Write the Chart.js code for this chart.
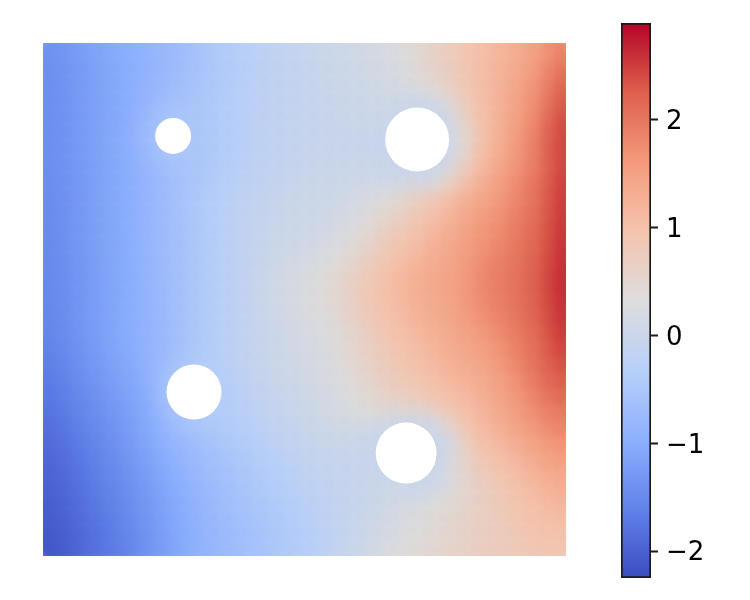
<!DOCTYPE html>
<html>
<head>
<meta charset="utf-8">
<script src="https://cdn.jsdelivr.net/npm/chart.js@4/dist/chart.umd.min.js"></script>
<style>
  html, body { margin: 0; background: #fff; overflow: hidden; }
  canvas { position: absolute; }
  #field { left: 43px; top: 43px; }
  #bar { left: 611px; top: 13px; }
</style>
</head>
<body>
<canvas id="field" width="523" height="513"></canvas>
<canvas id="bar" width="139" height="575"></canvas>
<script>
// values, one row per 16px band, top to bottom (null = inside a hole)
const zRows = [
  [-1.40,-1.30,-1.20,-1.12,-1.02,-.95,-.87,-.78,-.68,-.57,-.46,-.36,-.28,-.22,-.15,-.08,-.02,.03,.08,.13,.20,.28,.40,.55,.70,.85,1.00,1.12,1.25,1.40,1.58,1.85],
  [-1.41,-1.31,-1.21,-1.12,-1.03,-.95,-.86,-.76,-.66,-.55,-.45,-.36,-.28,-.21,-.15,-.08,-.03,.02,.06,.11,.17,.24,.35,.50,.68,.83,1.00,1.13,1.28,1.45,1.68,2.00],
  [-1.42,-1.32,-1.22,-1.13,-1.03,-.94,-.84,-.74,-.63,-.53,-.43,-.35,-.27,-.21,-.14,-.08,-.03,.01,.05,.09,.14,.20,.28,.42,.62,.80,1.00,1.15,1.32,1.52,1.78,2.15],
  [-1.42,-1.32,-1.22,-1.13,-1.03,-.93,-.80,-.66,-.58,-.50,-.42,-.34,-.27,-.20,-.14,-.08,-.03,.00,.03,.06,.09,.10,.08,.10,.30,.68,.95,1.15,1.35,1.58,1.85,2.25],
  [-1.42,-1.33,-1.23,-1.13,-1.04,-.92,-.74,-.55,-.50,-.48,-.41,-.33,-.26,-.20,-.13,-.08,-.04,-.01,.01,.03,.05,.02,.00,.00,.02,.55,.90,1.15,1.38,1.62,1.95,2.35],
  [-1.42,-1.32,-1.22,-1.12,-1.02,-.88,-.62,null,null,-.50,-.42,-.32,-.25,-.18,-.12,-.07,-.04,-.02,.00,.00,-.02,-.02,null,null,.00,.30,.85,1.15,1.42,1.70,2.02,2.40],
  [-1.43,-1.33,-1.23,-1.13,-1.02,-.90,-.70,-.52,-.50,-.50,-.42,-.32,-.25,-.18,-.12,-.07,-.03,-.01,.00,.00,-.01,-.01,null,null,.00,.30,.88,1.20,1.48,1.75,2.08,2.42],
  [-1.43,-1.33,-1.23,-1.13,-1.03,-.92,-.78,-.60,-.52,-.50,-.40,-.31,-.24,-.17,-.11,-.06,-.02,.00,.01,.02,.01,.00,.00,.00,.05,.55,1.00,1.28,1.52,1.78,2.05,2.42],
  [-1.44,-1.34,-1.24,-1.13,-1.03,-.93,-.82,-.70,-.58,-.47,-.37,-.29,-.21,-.15,-.08,-.03,.02,.04,.06,.08,.10,.10,.08,.12,.42,.85,1.18,1.42,1.65,1.88,2.10,2.45],
  [-1.45,-1.35,-1.25,-1.13,-1.02,-.92,-.80,-.68,-.55,-.43,-.33,-.25,-.17,-.10,-.03,.03,.05,.07,.11,.18,.28,.40,.55,.72,.92,1.15,1.32,1.50,1.70,1.93,2.15,2.48],
  [-1.46,-1.35,-1.25,-1.14,-1.03,-.92,-.80,-.68,-.55,-.43,-.32,-.24,-.15,-.07,.00,.04,.07,.10,.18,.28,.42,.58,.75,.92,1.10,1.30,1.48,1.62,1.80,1.98,2.18,2.50],
  [-1.47,-1.36,-1.25,-1.15,-1.04,-.93,-.81,-.69,-.56,-.44,-.32,-.22,-.13,-.05,.03,.07,.10,.17,.26,.38,.56,.74,.90,1.06,1.22,1.38,1.55,1.68,1.85,2.03,2.22,2.53],
  [-1.48,-1.37,-1.26,-1.15,-1.05,-.94,-.82,-.69,-.57,-.44,-.32,-.22,-.12,-.03,.06,.10,.15,.22,.34,.50,.70,.88,1.02,1.18,1.32,1.46,1.62,1.75,1.90,2.07,2.26,2.55],
  [-1.49,-1.38,-1.27,-1.16,-1.05,-.95,-.83,-.70,-.57,-.45,-.33,-.22,-.11,.00,.09,.15,.22,.32,.44,.62,.82,.98,1.12,1.26,1.36,1.50,1.68,1.85,1.95,2.10,2.29,2.58],
  [-1.50,-1.38,-1.27,-1.16,-1.05,-.95,-.83,-.70,-.58,-.45,-.33,-.22,-.10,.02,.12,.20,.30,.40,.55,.74,.93,1.08,1.22,1.33,1.40,1.54,1.72,1.88,1.98,2.13,2.32,2.60],
  [-1.51,-1.39,-1.28,-1.17,-1.06,-.95,-.84,-.71,-.58,-.45,-.33,-.22,-.10,.02,.13,.22,.32,.43,.58,.78,.95,1.08,1.22,1.32,1.40,1.54,1.72,1.87,1.98,2.13,2.32,2.60],
  [-1.52,-1.40,-1.29,-1.17,-1.06,-.95,-.84,-.71,-.58,-.45,-.33,-.22,-.10,.01,.12,.20,.30,.40,.56,.75,.92,1.05,1.19,1.30,1.38,1.52,1.68,1.83,1.95,2.11,2.29,2.57],
  [-1.53,-1.41,-1.29,-1.18,-1.06,-.96,-.85,-.72,-.58,-.45,-.33,-.22,-.10,.00,.10,.18,.26,.35,.50,.68,.86,1.00,1.13,1.25,1.35,1.47,1.60,1.75,1.90,2.07,2.26,2.54],
  [-1.55,-1.43,-1.30,-1.18,-1.06,-.96,-.85,-.72,-.58,-.45,-.33,-.22,-.10,.00,.08,.15,.22,.30,.44,.60,.78,.93,1.05,1.17,1.28,1.40,1.50,1.65,1.82,2.00,2.18,2.48],
  [-1.60,-1.47,-1.34,-1.22,-1.10,-.99,-.87,-.72,-.55,-.42,-.33,-.24,-.12,-.02,.06,.12,.20,.28,.42,.58,.74,.88,1.00,1.11,1.22,1.33,1.42,1.57,1.75,1.96,2.14,2.40],
  [-1.65,-1.51,-1.38,-1.26,-1.14,-1.02,-.88,-.62,-.45,-.36,-.33,-.26,-.13,-.03,.04,.10,.18,.26,.38,.50,.66,.79,.90,1.01,1.13,1.24,1.32,1.47,1.65,1.88,2.08,2.30],
  [-1.70,-1.57,-1.44,-1.32,-1.20,-1.08,-.92,-.55,null,null,-.38,-.30,-.20,-.10,-.02,.05,.12,.20,.32,.44,.58,.70,.80,.92,1.03,1.14,1.25,1.40,1.56,1.78,2.00,2.20],
  [-1.75,-1.62,-1.49,-1.37,-1.25,-1.12,-.96,-.60,-.48,null,-.40,-.32,-.22,-.12,-.04,.03,.10,.18,.26,.36,.47,.55,.58,.72,.88,1.03,1.15,1.33,1.49,1.68,1.87,2.05],
  [-1.80,-1.67,-1.54,-1.42,-1.30,-1.17,-1.00,-.78,-.55,-.45,-.42,-.35,-.27,-.18,-.10,-.03,.04,.11,.17,.22,.18,.08,.03,.15,.50,.85,1.08,1.24,1.40,1.58,1.75,1.90],
  [-1.85,-1.72,-1.60,-1.47,-1.35,-1.20,-1.03,-.87,-.72,-.60,-.50,-.41,-.33,-.25,-.17,-.09,-.02,.03,.05,.02,.00,.00,null,.00,.08,.62,.97,1.12,1.28,1.45,1.60,1.75],
  [-1.90,-1.77,-1.65,-1.52,-1.40,-1.26,-1.10,-.95,-.80,-.68,-.57,-.48,-.39,-.31,-.22,-.14,-.07,-.03,-.01,.00,.00,null,null,.00,.05,.45,.86,1.00,1.15,1.30,1.45,1.60],
  [-1.94,-1.82,-1.70,-1.57,-1.45,-1.31,-1.16,-1.01,-.87,-.75,-.64,-.54,-.45,-.37,-.29,-.21,-.13,-.08,-.04,-.01,.00,null,null,.00,.15,.50,.72,.88,1.02,1.18,1.32,1.45],
  [-1.98,-1.86,-1.74,-1.62,-1.50,-1.36,-1.21,-1.06,-.92,-.80,-.69,-.59,-.50,-.42,-.34,-.26,-.18,-.12,-.06,-.01,.02,.02,.00,.02,.20,.42,.65,.80,.93,1.06,1.19,1.30],
  [-2.02,-1.90,-1.78,-1.66,-1.54,-1.40,-1.25,-1.10,-.96,-.84,-.73,-.63,-.54,-.46,-.38,-.30,-.22,-.15,-.07,.00,.07,.13,.18,.26,.38,.50,.63,.76,.88,.99,1.10,1.19],
  [-2.05,-1.93,-1.81,-1.70,-1.58,-1.43,-1.28,-1.13,-.99,-.87,-.76,-.67,-.58,-.50,-.42,-.34,-.26,-.17,-.08,.01,.10,.20,.28,.36,.45,.55,.64,.74,.84,.93,1.02,1.08],
  [-2.08,-1.97,-1.85,-1.74,-1.62,-1.47,-1.31,-1.16,-1.01,-.89,-.78,-.69,-.60,-.52,-.44,-.36,-.28,-.18,-.08,.03,.14,.24,.33,.41,.49,.57,.65,.73,.81,.88,.94,.99],
  [-2.12,-2.00,-1.88,-1.76,-1.65,-1.50,-1.34,-1.18,-1.03,-.91,-.80,-.71,-.62,-.54,-.46,-.38,-.30,-.18,-.06,.07,.20,.30,.38,.45,.53,.60,.66,.73,.78,.84,.88,.92]
];

// holes in grid units: x, y, radius in px
const holeX = [7.46, 22.39, 8.74, 21.72];
const holeY = [5.30, 5.52, 21.27, 25.08];
const holeR = [18, 32, 27.5, 30.5];

const barTicks = [-2, -1, 0, 1, 2];
const zMin = -2.25;
const zMax = 2.9;

// coolwarm
const cmap = [
  [58,76,192],[98,130,234],[141,176,254],[184,208,249],[221,221,221],
  [245,196,173],[244,154,123],[222,96,77],[180,4,38]
];

function colorAt(z, alpha = 1) {
  const t = Math.min(1, Math.max(0, (z - zMin) / (zMax - zMin))) * (cmap.length - 1);
  const i = Math.min(cmap.length - 2, Math.floor(t));
  const f = t - i;
  const c = cmap[i].map((v, k) => Math.round(v + (cmap[i + 1][k] - v) * f));
  return `rgba(${c[0]},${c[1]},${c[2]},${alpha})`;
}

const fieldPoints = [];
const fieldZ = [];
zRows.forEach((row, y) => row.forEach((z, x) => {
  if (z === null) return;
  fieldPoints.push({ x, y });
  fieldZ.push(z);
}));

// soften the round marks so neighbouring cells melt together like the dense mesh
const softMarks = {
  id: 'softMarks',
  beforeDatasetDraw(chart, args) {
    if (args.index > 0) chart.ctx.filter = 'blur(5px)';
  },
  afterDatasetDraw(chart, args) {
    if (args.index > 0) chart.ctx.filter = 'none';
  }
};

// canvas 'middle' baseline sits a bit high for DejaVu digits
const nudgeLabels = {
  id: 'nudgeLabels',
  beforeDraw(chart) {
    chart.scales.y.getLabelItems().forEach(item => {
      const [tx, ty] = item.options.translation;
      item.options.translation = [tx, ty + 2.5];
    });
  }
};

Chart.defaults.animation = false;
Chart.defaults.font.family = '"DejaVu Sans"';

new Chart(document.getElementById('field'), {
  type: 'scatter',
  plugins: [softMarks],
  data: {
    datasets: [
      {
        type: 'bubble',
        order: 0,
        data: holeX.map((x, i) => ({ x, y: holeY[i], r: holeR[i] })),
        backgroundColor: '#fff',
        borderWidth: 0,
        clip: 0
      },
      // second pass runs the other way round, half see-through, so later marks don't drag the field up-left
      {
        order: 1,
        data: fieldPoints.slice().reverse(),
        pointRadius: 15,
        pointBorderWidth: 0,
        pointBackgroundColor: fieldZ.slice().reverse().map(z => colorAt(z, 0.5)),
        clip: 0
      },
      {
        order: 2,
        data: fieldPoints,
        pointRadius: 15,
        pointBorderWidth: 0,
        pointBackgroundColor: fieldZ.map(z => colorAt(z)),
        clip: 0
      }
    ]
  },
  options: {
    responsive: false,
    layout: { padding: 0, autoPadding: false },
    events: [],
    plugins: { legend: { display: false }, tooltip: { enabled: false } },
    scales: {
      x: { display: false, min: -0.5, max: 31.5 },
      y: { display: false, min: -0.5, max: 31.5, reverse: true }
    }
  }
});

new Chart(document.getElementById('bar'), {
  type: 'bar',
  plugins: [nudgeLabels],
  data: {
    labels: [''],
    datasets: [{
      data: [[zMin, zMax]],
      barPercentage: 1,
      categoryPercentage: 1,
      borderColor: '#1a1a1a',
      borderWidth: 2,
      borderSkipped: false,
      backgroundColor(ctx) {
        const { chart } = ctx;
        if (!chart.chartArea) return '#ccc';
        const g = chart.ctx.createLinearGradient(0, chart.chartArea.bottom, 0, chart.chartArea.top);
        cmap.forEach((c, i) => g.addColorStop(i / (cmap.length - 1), `rgb(${c[0]},${c[1]},${c[2]})`));
        return g;
      }
    }]
  },
  options: {
    responsive: false,
    layout: { padding: { left: 10, top: 10, bottom: 10, right: 0 } },
    events: [],
    plugins: { legend: { display: false }, tooltip: { enabled: false } },
    scales: {
      x: { display: false },
      y: {
        position: 'right',
        min: zMin,
        max: zMax,
        afterBuildTicks(scale) { scale.ticks = barTicks.map(value => ({ value })); },
        afterFit(scale) {
          scale.width = 99;
          scale.paddingTop = 0;
          scale.paddingBottom = 0;
        },
        border: { display: false },
        grid: { drawOnChartArea: false, tickLength: 7, tickWidth: 2, tickColor: '#1a1a1a' },
        ticks: {
          color: '#000',
          padding: 8,
          font: { size: 26 },
          callback: v => String(v).replace('-', '\u2212')
        }
      }
    }
  }
});
</script>
</body>
</html>
